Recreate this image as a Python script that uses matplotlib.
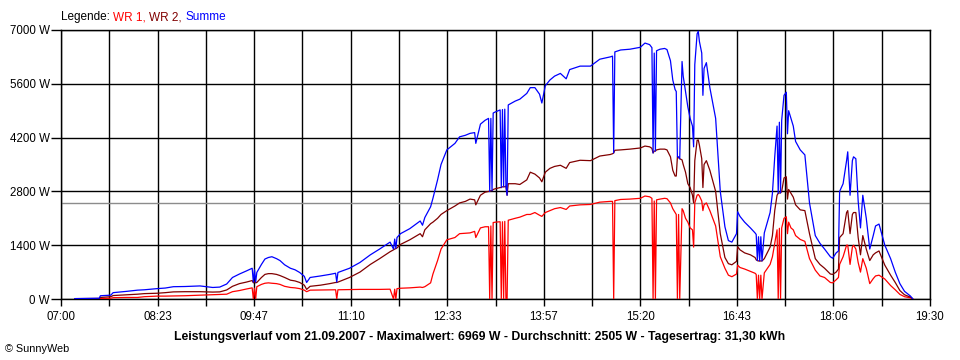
# SunnyWeb Tagesverlauf 21.09.2007 - WR 1, WR 2 und Summe
import matplotlib.pyplot as plt

plt.rcParams['font.family'] = ['Liberation Sans', 'DejaVu Sans']

times = ["07:12", "07:33", "07:34", "07:43", "07:45", "07:57", "08:06", "08:12", "08:23", "08:30",
         "08:37", "08:47", "09:00", "09:11", "09:17", "09:23", "09:28", "09:34", "09:40", "09:45",
         "09:46", "09:47", "09:48", "09:49", "09:53", "09:56", "09:59", "10:02", "10:06", "10:09",
         "10:13", "10:18", "10:22", "10:26", "10:30", "10:32", "10:35", "10:44", "10:52", "10:57",
         "10:58", "10:59", "11:09", "11:18", "11:27", "11:35", "11:44", "11:47", "11:48", "11:49",
         "11:50", "11:53", "12:01", "12:10", "12:12", "12:14", "12:19", "12:21", "12:25", "12:28",
         "12:33", "12:40", "12:44", "12:49", "12:53", "12:57", "12:58", "13:02", "13:06", "13:09",
         "13:10", "13:11", "13:12", "13:13", "13:15", "13:19", "13:20", "13:21", "13:22", "13:23",
         "13:24", "13:25", "13:26", "13:32", "13:36", "13:42", "13:45", "13:49", "13:53", "13:55",
         "13:58", "14:02", "14:06", "14:11", "14:16", "14:19", "14:28", "14:37", "14:45", "14:54",
         "14:56", "14:57", "14:58", "15:03", "15:11", "15:20", "15:24", "15:28", "15:30", "15:31",
         "15:32", "15:33", "15:34", "15:37", "15:41", "15:43", "15:46", "15:48", "15:50", "15:51",
         "15:52", "15:53", "15:54", "15:56", "15:57", "15:59", "16:01", "16:03", "16:05", "16:06",
         "16:07", "16:09", "16:10", "16:11", "16:13", "16:14", "16:15", "16:17", "16:20", "16:25",
         "16:29", "16:33", "16:36", "16:39", "16:43", "16:44", "16:46", "16:50", "16:55", "16:59",
         "17:00", "17:01", "17:02", "17:03", "17:04", "17:05", "17:07", "17:12", "17:14", "17:16",
         "17:18", "17:19", "17:20", "17:21", "17:22", "17:24", "17:26", "17:27", "17:28", "17:30",
         "17:32", "17:34", "17:38", "17:42", "17:46", "17:51", "17:55", "17:59", "18:04", "18:06",
         "18:09", "18:11", "18:12", "18:15", "18:18", "18:19", "18:21", "18:23", "18:24", "18:26",
         "18:28", "18:30", "18:32", "18:35", "18:38", "18:41", "18:43", "18:46", "18:51", "18:56",
         "19:00", "19:04", "19:08", "19:13", "19:15"]

wr1 = [0, 0, 15, 20, 35, 40, 40, 60, 75, 75,
       80, 85, 100, 115, 120, 125, 190, 220, 260, 290,
       0, 280, 0, 320, 380, 410, 420, 410, 400, 380,
       330, 300, 290, 270, 230, 190, 230, 234, 240, 240,
       0, 240, 245, 250, 250, 250, 255, 0, 255, 0,
       270, 280, 290, 310, 300, 320, 420, 650, 1000, 1300,
       1540, 1600, 1700, 1710, 1720, 1760, 1600, 1850, 1880, 1880,
       0, 1900, 0, 1990, 2000, 2010, 0, 2010, 0, 2020,
       0, 0, 2050, 2100, 2130, 2200, 2200, 2250, 2180, 2150,
       2250, 2300, 2350, 2380, 2330, 2420, 2450, 2460, 2520, 2540,
       2540, 0, 2560, 2590, 2600, 2620, 2680, 2660, 2620, 0,
       2550, 0, 2580, 2600, 2620, 2610, 2500, 2350, 2250, 2200,
       0, 2200, 0, 2350, 2300, 2100, 2000, 1850, 1800, 1350,
       2500, 2700, 2720, 2680, 2550, 2300, 2450, 2500, 2300, 1900,
       1100, 800, 620, 580, 650, 880, 820, 780, 720, 670,
       640, 0, 620, 0, 620, 0, 680, 900, 1100, 1450,
       1800, 0, 1840, 0, 1850, 2100, 2140, 1700, 2000, 1850,
       1800, 1650, 1550, 1500, 1050, 750, 600, 560, 430, 420,
       500, 560, 900, 1100, 1400, 1400, 900, 1350, 1400, 1300,
       950, 700, 1050, 800, 400, 530, 600, 620, 520, 350,
       240, 120, 60, 30, 0]

wr2 = [10, 15, 40, 60, 90, 110, 125, 140, 150, 165,
       185, 190, 190, 180, 185, 235, 330, 400, 440, 480,
       420, 460, 420, 430, 560, 640, 660, 660, 640, 610,
       560, 490, 470, 430, 360, 250, 330, 360, 400, 430,
       430, 440, 560, 700, 900, 1050, 1230, 1280, 1300, 1310,
       1330, 1420, 1540, 1700, 1620, 1800, 1960, 2000, 2100, 2200,
       2300, 2420, 2500, 2540, 2600, 2580, 2450, 2700, 2780, 2800,
       2800, 2820, 2820, 2850, 2870, 2900, 2900, 2920, 2920, 2920,
       2940, 2700, 3000, 3000, 2980, 3100, 3300, 3250, 3150, 3050,
       3300, 3400, 3450, 3480, 3400, 3550, 3610, 3600, 3720, 3760,
       3780, 3800, 3870, 3880, 3900, 3930, 3980, 3960, 3920, 3800,
       3850, 3850, 3880, 3900, 3900, 3880, 3700, 3350, 3200, 3200,
       3700, 3680, 3650, 3620, 3500, 3300, 3000, 2900, 2700, 2500,
       3600, 4130, 4140, 4000, 3650, 2900, 3500, 3600, 3350, 2800,
       1700, 1080, 920, 890, 980, 1360, 1280, 1200, 1150, 1080,
       1020, 1000, 990, 990, 990, 990, 1050, 1350, 1650, 2300,
       2700, 2750, 2760, 2760, 2800, 3150, 3180, 2600, 2850, 2750,
       2650, 2450, 2320, 2300, 1700, 1050, 900, 800, 650, 640,
       700, 780, 1600, 1700, 2250, 2300, 1700, 2200, 2250, 2250,
       1600, 1150, 1650, 1300, 1000, 1150, 1200, 1250, 880, 620,
       430, 220, 110, 50, 10]

summe = [10, 20, 85, 100, 165, 200, 230, 240, 270, 285,
         320, 325, 340, 300, 310, 390, 560, 650, 730, 800,
         440, 760, 440, 690, 900, 1040, 1080, 1100, 1050, 1000,
         890, 800, 760, 690, 590, 430, 560, 600, 640, 670,
         440, 690, 800, 950, 1150, 1300, 1480, 1300, 1560, 1320,
         1600, 1700, 1830, 2030, 1920, 2120, 2400, 2620, 3100, 3500,
         3880, 4050, 4220, 4260, 4310, 4330, 4050, 4550, 4650, 4700,
         2800, 4700, 2820, 4840, 4870, 4920, 2900, 4930, 2920, 4940,
         2940, 2700, 5050, 5150, 5200, 5350, 5500, 5500, 5330, 5100,
         5550, 5700, 5800, 5870, 5730, 5970, 6060, 6060, 6240, 6300,
         6320, 3800, 6430, 6480, 6500, 6550, 6660, 6620, 6540, 3800,
         6400, 3850, 6460, 6500, 6520, 6490, 6200, 5700, 5450, 5400,
         3700, 3700, 3650, 6180, 5800, 5400, 5000, 4700, 4500, 3960,
         6100, 6900, 6969, 6700, 6400, 5300, 6000, 6150, 5500, 4700,
         2800, 1880, 1520, 1480, 1700, 2270, 2150, 2000, 1850, 1720,
         1680, 1000, 1620, 990, 1620, 990, 1720, 2250, 2750, 3700,
         4500, 2750, 4600, 2760, 4650, 5300, 5380, 4300, 4900, 4700,
         4500, 4100, 3880, 3750, 2500, 1650, 1450, 1300, 1100, 1060,
         1200, 1250, 2800, 3000, 3600, 3830, 2700, 3600, 3700, 3650,
         2550, 1850, 2700, 2100, 1300, 1650, 1900, 1950, 1400, 1050,
         700, 400, 200, 80, 10]

x_labels = ["07:00", "08:23", "09:47", "11:10", "12:33", "13:57", "15:20", "16:43", "18:06", "19:30"]
y_values = [0, 1400, 2800, 4200, 5600, 7000]
average = 2505
title = ("Leistungsverlauf vom 21.09.2007 - Maximalwert: 6969 W - "
         "Durchschnitt: 2505 W - Tagesertrag: 31,30 kWh")


def to_min(t):
    h, m = t.split(':')
    return int(h) * 60 + int(m) - 7 * 60


x = [to_min(t) for t in times]
span = 750  # 07:00 .. 19:30

fig = plt.figure(figsize=(9.6, 3.6), dpi=100)
ax = fig.add_axes([61 / 960, 61 / 360, 869 / 960, 269 / 360])

ax.plot(x, wr1, color='#ff0000', lw=0.9, zorder=3)
ax.plot(x, wr2, color='#800000', lw=0.9, zorder=4)
ax.plot(x, summe, color='#0000ff', lw=0.9, zorder=5)
ax.axhline(average, color='#8c8c8c', lw=1.0, zorder=2)

ax.set_xlim(0, span)
ax.set_ylim(0, 7000)
ax.set_xticks([i * span / 9 for i in range(10)])
ax.set_xticklabels(x_labels)
ax.set_xticks([(i + 0.5) * span / 9 for i in range(9)], minor=True)
ax.set_yticks(y_values)
ax.set_yticklabels([f'{v} W' for v in y_values])
ax.grid(True, which='both', color='black', lw=1.0, zorder=1)
ax.tick_params(axis='x', which='both', length=5, width=1, pad=4, labelsize=8.3)
ax.tick_params(axis='y', length=7, width=1, pad=1, labelsize=8.3)
for s in ax.spines.values():
    s.set_color('black')
    s.set_linewidth(1.0)

# legend line on top
leg = fig.text(61 / 960, 1 - 17 / 360, 'Legende: ', fontsize=8.5, va='center', ha='left')
prev = leg
for txt, col in [('WR 1, ', '#ff0000'), ('WR 2, ', '#800000'), ('Summe', '#0000ff')]:
    prev = ax.annotate(txt, xy=(1, 0), xycoords=prev, va='bottom', ha='left',
                       fontsize=8.5, color=col)

fig.text(480 / 960, 1 - 337 / 360, title, fontsize=8.8, fontweight='bold',
         ha='center', va='center')
fig.text(5 / 960, 1 - 349 / 360, '© SunnyWeb', fontsize=7.8, ha='left', va='center')

fig.savefig('out.png', dpi=100)
